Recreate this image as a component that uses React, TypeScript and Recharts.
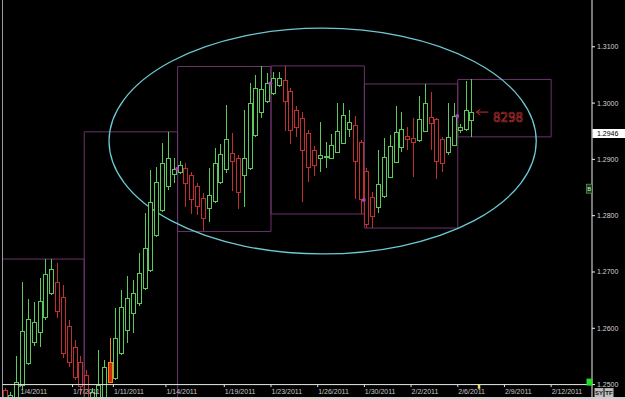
import React from 'react'
import {
  ComposedChart, Bar, XAxis, YAxis,
  ReferenceArea, ReferenceLine, ReferenceDot,
} from 'recharts'

// 8h candles, bar index 0..80
const opens = [
  1.2490, 1.2474, 1.2478, 1.2499, 1.2539, 1.2576, 1.2594, 1.2620, 1.2662, 1.2682,
  1.2656, 1.2604, 1.2567, 1.2541, 1.2517, 1.2466, 1.2473, 1.2479, 1.2541, 1.2512,
  1.2556, 1.2597, 1.2627, 1.2644, 1.2671, 1.2704, 1.2766, 1.2810, 1.2852, 1.2875,
  1.2878, 1.2884, 1.2872, 1.2852, 1.2832, 1.2814, 1.2825, 1.2859, 1.2883, 1.2911,
  1.2903, 1.2872, 1.2885, 1.2943, 1.2984, 1.3003, 1.3019, 1.3032, 1.3041, 1.3022,
  1.2988, 1.2974, 1.2946, 1.2917, 1.2902, 1.2904, 1.2903, 1.2914, 1.2930, 1.2954,
  1.2961, 1.2930, 1.2879, 1.2834, 1.2816, 1.2834, 1.2869, 1.2896, 1.2922, 1.2942,
  1.2938, 1.2933, 1.2951, 1.2976, 1.2971, 1.2936, 1.2913, 1.2926, 1.2951, 1.2954,
  1.2970,
]
const highs = [
  1.2494, 1.2487, 1.2551, 1.2682, 1.2652, 1.2646, 1.2689, 1.2723, 1.2723, 1.2716,
  1.2677, 1.2615, 1.2579, 1.2551, 1.2526, 1.2494, 1.2562, 1.2544, 1.2583, 1.2636,
  1.2668, 1.2692, 1.2686, 1.2734, 1.2805, 1.2881, 1.2887, 1.2929, 1.2949, 1.2902,
  1.2897, 1.2893, 1.2878, 1.2858, 1.2840, 1.2884, 1.2921, 1.2927, 1.2997, 1.2946,
  1.2908, 1.2988, 1.3035, 1.3049, 1.3065, 1.3053, 1.3056, 1.3056, 1.3066, 1.3027,
  1.2995, 1.2984, 1.2952, 1.2924, 1.2966, 1.2930, 1.2945, 1.3000, 1.3000, 1.2988,
  1.2977, 1.2935, 1.2885, 1.2842, 1.2917, 1.2938, 1.2943, 1.2994, 1.2985, 1.2958,
  1.2973, 1.3013, 1.3034, 1.3020, 1.2974, 1.2940, 1.3000, 1.3001, 1.2963, 1.3040,
  1.3042,
]
const lows = [
  1.2469, 1.2469, 1.2473, 1.2490, 1.2535, 1.2569, 1.2567, 1.2615, 1.2659, 1.2618,
  1.2547, 1.2531, 1.2508, 1.2482, 1.2469, 1.2455, 1.2458, 1.2473, 1.2503, 1.2508,
  1.2553, 1.2574, 1.2592, 1.2640, 1.2668, 1.2700, 1.2762, 1.2807, 1.2846, 1.2858,
  1.2874, 1.2816, 1.2803, 1.2801, 1.2772, 1.2789, 1.2823, 1.2856, 1.2876, 1.2843,
  1.2812, 1.2816, 1.2881, 1.2940, 1.2974, 1.3000, 1.3014, 1.3029, 1.2950, 1.2927,
  1.2940, 1.2825, 1.2859, 1.2871, 1.2878, 1.2884, 1.2901, 1.2911, 1.2927, 1.2939,
  1.2830, 1.2803, 1.2778, 1.2778, 1.2804, 1.2831, 1.2867, 1.2894, 1.2914, 1.2916,
  1.2869, 1.2931, 1.2949, 1.2916, 1.2865, 1.2878, 1.2908, 1.2924, 1.2947, 1.2951,
  1.2940,
]
const closes = [
  1.2476, 1.2482, 1.2505, 1.2595, 1.2617, 1.2611, 1.2649, 1.2697, 1.2705, 1.2631,
  1.2556, 1.2540, 1.2514, 1.2499, 1.2478, 1.2487, 1.2499, 1.2532, 1.2505, 1.2583,
  1.2638, 1.2654, 1.2662, 1.2698, 1.2742, 1.2825, 1.2860, 1.2893, 1.2902, 1.2883,
  1.2890, 1.2858, 1.2830, 1.2816, 1.2797, 1.2837, 1.2893, 1.2909, 1.2936, 1.2896,
  1.2842, 1.2902, 1.3001, 1.3026, 1.3025, 1.3035, 1.3045, 1.3045, 1.3003, 1.2952,
  1.2958, 1.2917, 1.2886, 1.2890, 1.2908, 1.2906, 1.2926, 1.2951, 1.2979, 1.2967,
  1.2897, 1.2828, 1.2785, 1.2801, 1.2856, 1.2904, 1.2924, 1.2949, 1.2954, 1.2936,
  1.2931, 1.2971, 1.3000, 1.2966, 1.2896, 1.2893, 1.2939, 1.2977, 1.2957, 1.2988,
  1.2984,
]
const highlighted = [18]

// weekly range boxes start at these bar indexes
const weekEdges = [0, 14, 30, 46, 62, 78, 94]
const weekCloseBars = [29, 45, 61, 77]

const dateTickPos = [2.5, 11.5, 18.5, 27.5, 37.5, 45.5, 53.5, 61.5, 69.5, 77.5, 85.5, 93.5]
const dateTickLabels = [
  '1/4/2011', '1/7/2011', '1/11/2011', '1/14/2011', '1/19/2011', '1/23/2011',
  '1/26/2011', '1/30/2011', '2/2/2011', '2/6/2011', '2/9/2011', '2/12/2011',
]
const priceTicks = [1.25, 1.26, 1.27, 1.28, 1.29, 1.30, 1.31]
const lastPrice = 1.2946
const arrowText = '8298'

const GREEN = '#5cc95c'
const RED = '#c03030'
const PURPLE = '#6c346c'
const CYAN = '#6cc8d2'
const FONT = "'Liberation Sans', Arial, sans-serif"

const rows = opens.map((o, i) => ({
  x: i,
  open: o,
  high: highs[i],
  low: lows[i],
  close: closes[i],
  range: [lows[i], highs[i]],
  hl: highlighted.includes(i),
}))

const weekBoxes = weekEdges.slice(0, -1).map((s, k) => {
  const e = weekEdges[k + 1]
  const slice = rows.slice(s, Math.min(e, rows.length))
  return {
    x1: s - 0.5,
    x2: e - 0.5,
    hi: Math.max(...slice.map(r => r.high)),
    lo: Math.min(...slice.map(r => r.low)),
  }
})

function Candle(props: any) {
  const { x, y, width, height, payload } = props
  if (!payload) return null
  const { open, close, high, low, hl } = payload
  const top = Math.min(y, y + height)
  const bottom = Math.max(y, y + height)
  const k = (bottom - top) / (high - low)
  const yO = top + (high - open) * k
  const yC = top + (high - close) * k
  const color = hl ? '#ff8a10' : close >= open ? GREEN : RED
  const left = Math.round(x + width / 2 - 2.5)
  const bTop = Math.round(Math.min(yO, yC)) + 0.5
  const bH = Math.max(Math.round(Math.abs(yO - yC)), 1)
  return (
    <g shapeRendering="crispEdges">
      <line x1={left + 2.5} x2={left + 2.5} y1={top} y2={bottom} stroke={color} strokeWidth={1} />
      <rect
        x={left + 0.5} y={bTop} width={4} height={bH}
        fill={hl ? '#d02810' : '#000'} stroke={color} strokeWidth={1}
      />
    </g>
  )
}

export default function App() {
  return (
    <div style={{ position: 'absolute', left: 0, top: 0, width: 625, height: 399, background: '#000', overflow: 'hidden' }}>
      <ComposedChart width={625} height={399} data={rows} margin={{ top: 0, right: 0, bottom: 0, left: 2.5 }}>
        <XAxis dataKey="x" type="number" domain={[-0.5, 100.5]} allowDataOverflow hide />
        <YAxis
          orientation="right" width={33} type="number"
          domain={[1.24744, 1.31831]} allowDataOverflow
          ticks={priceTicks} interval={0}
          tickFormatter={(v: number) => v.toFixed(4)}
          tick={{ fill: '#d4d4d4', fontSize: 7, fontFamily: FONT }}
          axisLine={{ stroke: '#f0f0f0' }} tickLine={{ stroke: '#f0f0f0' }}
          tickSize={3} tickMargin={2}
        />

        {/* weekly high/low boxes */}
        {weekBoxes.map((b, k) => (
          <ReferenceArea
            key={k} x1={b.x1} x2={b.x2} y1={b.lo} y2={b.hi}
            fill="none" fillOpacity={0} stroke={PURPLE} strokeWidth={1} ifOverflow="visible"
          />
        ))}

        <ReferenceLine x={-0.5} stroke="#9a9a9a" ifOverflow="visible" />
        <ReferenceLine y={1.25} stroke="#e8e8e8" ifOverflow="visible" />

        <Bar dataKey="range" barSize={5} shape={<Candle />} isAnimationActive={false} />

        {/* date labels along the 1.25 line */}
        {dateTickPos.map((pos, i) => (
          <ReferenceDot
            key={pos} x={pos} y={1.25} ifOverflow="visible"
            shape={(p: any) => (
              <g>
                <line x1={p.cx} x2={p.cx} y1={p.cy} y2={p.cy + 2.5} stroke="#e0e0e0" />
                <text x={p.cx + 0.5} y={p.cy + 9.5} fill="#c8c8c8" fontSize={7} fontFamily={FONT}>
                  {dateTickLabels[i]}
                </text>
              </g>
            )}
          />
        ))}

        {/* weekly close markers */}
        {weekCloseBars.map(i => (
          <ReferenceDot key={i} x={i + 0.4} y={closes[i]} r={2} fill="#b040c0" stroke="none" ifOverflow="visible" />
        ))}

        {/* ellipse */}
        <ReferenceArea
          x1={17.75} x2={90.95} y1={1.2732} y2={1.3133} ifOverflow="visible"
          shape={(p: any) => (
            <ellipse
              cx={p.x + p.width / 2} cy={p.y + p.height / 2}
              rx={Math.abs(p.width) / 2} ry={Math.abs(p.height) / 2}
              fill="none" stroke={CYAN} strokeWidth={1.3}
            />
          )}
        />

        {/* arrow + value */}
        <ReferenceDot
          x={80.7} y={1.2984} ifOverflow="visible"
          shape={(p: any) => (
            <g>
              <line x1={p.cx} x2={p.cx + 12} y1={p.cy} y2={p.cy} stroke="#c83030" />
              <polyline points={`${p.cx + 4},${p.cy - 3} ${p.cx},${p.cy} ${p.cx + 4},${p.cy + 3}`} fill="none" stroke="#c83030" />
              <text x={p.cx + 16.5} y={p.cy + 10.3} fontSize={13.5} fontFamily="'DejaVu Sans Mono', monospace"
                fill="none" stroke="#b83030" strokeWidth={0.7} textLength={30} lengthAdjust="spacingAndGlyphs">
                {arrowText}
              </text>
            </g>
          )}
        />

        <ReferenceDot
          x={81.1} y={1.2497} ifOverflow="visible"
          shape={(p: any) => <rect x={p.cx - 1} y={p.cy - 1.5} width={2.5} height={4} fill="#f0e060" />}
        />

        <ReferenceDot
          x={100.1} y={1.2848} ifOverflow="visible"
          shape={(p: any) => (
            <g>
              <rect x={p.cx - 3} y={p.cy - 4.5} width={5.5} height={9} fill="#123c12" stroke="#7ab07a" strokeWidth={0.6} />
              <text x={p.cx - 0.3} y={p.cy + 2} fontSize={6} fill="#d0e8d0" textAnchor="middle" fontFamily={FONT}>B</text>
            </g>
          )}
        />

        {/* last price label */}
        <ReferenceDot
          x={100.5} y={lastPrice} ifOverflow="visible"
          shape={(p: any) => (
            <g>
              <rect x={p.cx + 0.5} y={p.cy - 4.5} width={33} height={9} fill="#fff" />
              <text x={p.cx + 5} y={p.cy + 2.5} fontSize={7} fill="#000" fontFamily={FONT}>{lastPrice.toFixed(4)}</text>
            </g>
          )}
        />

        {/* bottom-right widgets */}
        <ReferenceDot
          x={100.5} y={1.25} ifOverflow="visible"
          shape={(p: any) => (
            <g fontFamily={FONT}>
              <rect x={p.cx - 5.5} y={p.cy - 6} width={6} height={7} fill="#22dd22" />
              <rect x={p.cx + 2.5} y={p.cy + 3.5} width={9} height={9} fill="#bdbdbd" />
              <text x={p.cx + 7} y={p.cy + 10.5} fontSize={6} fill="#111" textAnchor="middle" fontWeight="bold">SY</text>
              <rect x={p.cx + 12.5} y={p.cy + 3.5} width={9} height={9} fill="#bdbdbd" />
              <text x={p.cx + 17} y={p.cy + 10.5} fontSize={6} fill="#111" textAnchor="middle" fontWeight="bold">TF</text>
            </g>
          )}
        />
      </ComposedChart>
      <div style={{ position: 'absolute', left: 0, top: 397, width: 625, height: 2, background: '#d0d0d0' }} />
    </div>
  )
}
